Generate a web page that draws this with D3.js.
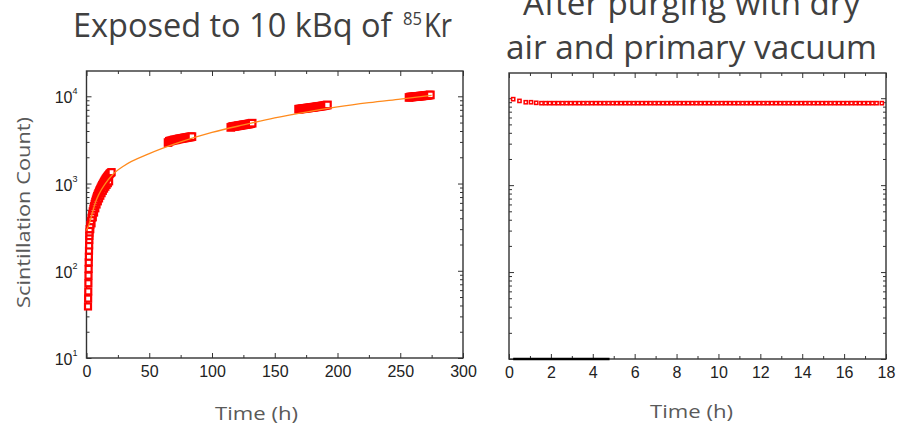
<!DOCTYPE html>
<html><head><meta charset="utf-8">
<script src="https://cdn.jsdelivr.net/npm/d3@7"></script>
<style>body{margin:0;background:#fff}svg{display:block}</style>
</head><body>
<script>
// ---------- DATA ----------
// Left panel: exposure to 85Kr
const earlyColumnT = [1.2,1.3,1.4,1.5,1.6,1.7,1.8,1.9,2.0,2.1,2.2,2.3,2.4];
const earlyColumnV = [39,48,58,72,88,105,125,145,170,195,225,250,275];
const earlyBandT = [2.5,3,3.5,4,4.5,5,5.5,6,6.5,7,7.5,8,8.5,9,9.5,10,10.5,11,11.5,12,12.5,13,13.5,14,14.5,15,15.5,16,16.5,17,17.5,18,18.5,19,19.5,20];
const earlyBandV = [300,335,370,405,445,480,515,550,585,620,655,690,720,750,780,810,840,870,900,930,960,990,1020,1050,1080,1110,1140,1165,1190,1220,1245,1270,1295,1315,1335,1350];
const earlyLowT = [3,4,5,6,7,8,9,10,11,12,13,14,15,16,17,18];
const earlyLowV = [300,350,410,465,520,575,625,675,725,775,825,875,920,965,1010,1060];
const cluster1T = [65,66,67,68,69,70,71,72,73,74,75,76,77,78,79,80,81,82,83,84];
const cluster1V = [2950,3050,3080,3100,3140,3160,3170,3200,3230,3250,3270,3290,3310,3330,3350,3370,3390,3410,3430,3450];
const cluster2T = [115,116,117,118,119,120,121,122,123,124,125,126,127,128,129,130,131,132];
const cluster2V = [4400,4480,4500,4520,4550,4570,4600,4620,4650,4680,4700,4730,4750,4780,4800,4840,4870,4920];
const cluster3T = [169,170,171,172,173,174,175,176,177,178,179,180,181,182,183,184,185,186,187,188,189,190,191,192];
const cluster3V = [7110,7140,7170,7200,7230,7270,7300,7330,7360,7400,7430,7460,7500,7530,7570,7600,7640,7680,7710,7750,7800,7850,7900,7960];
const cluster4T = [257,258,259,260,261,262,263,264,265,266,267,268,269,270,271,272,273,274];
const cluster4V = [9700,9800,9830,9860,9890,9920,9950,9980,10010,10050,10080,10120,10160,10200,10240,10280,10330,10380];
const fitT = [0,2,5,7,10,15,20,30,50,75,100,125,150,175,200,225,250,275];
const fitV = [290,340,480,600,760,1000,1230,1600,2200,3000,3850,4700,5650,6600,7550,8450,9300,10250];

// Right panel: after purging
const purgeT = [0.2,0.5,0.8,1.05,1.3,1.55,1.75,1.95,2.15,2.35,2.55,2.75,2.95,3.15,3.35,3.55,3.75,3.95,4.15,4.35,4.55,4.75,4.95,5.15,5.35,5.55,5.75,5.95,6.15,6.35,6.55,6.75,6.95,7.15,7.35,7.55,7.75,7.95,8.15,8.35,8.55,8.75,8.95,9.15,9.35,9.55,9.75,9.95,10.15,10.35,10.55,10.75,10.95,11.15,11.35,11.55,11.75,11.95,12.15,12.35,12.55,12.75,12.95,13.15,13.35,13.55,13.75,13.95,14.15,14.35,14.55,14.75,14.95,15.15,15.35,15.55,15.75,15.95,16.15,16.35,16.55,16.75,16.95,17.15,17.35,17.55,17.8];
const purgeV = [9750,9310,8990,8990,8850,8770,8770,8770,8770,8770,8770,8770,8770,8770,8770,8770,8770,8770,8770,8770,8770,8770,8770,8770,8770,8770,8770,8770,8770,8770,8770,8770,8770,8770,8770,8770,8770,8770,8770,8770,8770,8770,8770,8770,8770,8770,8770,8770,8770,8770,8770,8770,8770,8770,8770,8770,8770,8770,8770,8770,8770,8770,8770,8770,8770,8770,8770,8770,8770,8770,8770,8770,8770,8770,8770,8770,8770,8770,8770,8770,8770,8770,8770,8770,8770,8770,8770];
const bgT = [0.2,1,2,3,4,4.8];
const bgV = [10,10,10,10,10,10];

const leftXTicks = [0,50,100,150,200,250,300];
const leftXMinor = [25,75,125,175,225,275];
const rightXTicks = [0,2,4,6,8,10,12,14,16,18];
const rightXMinor = [1,3,5,7,9,11,13,15,17];
const yMajor = [10,100,1000,10000];
const yExp = ["1","2","3","4"];

// ---------- DRAW ----------
const W = 897, H = 425;
const svg = d3.select("body").append("svg").attr("width", W).attr("height", H);
const tickColor = "#333";
const yMinor = [];
[10,100,1000,10000].forEach(d => { for (let k = 2; k <= 9; k++) { const v = d*k; if (v < 19500) yMinor.push(v); } });

function panel(o) {
  const x = d3.scaleLinear().domain(o.xd).range([o.l, o.r]);
  const y = d3.scaleLog().domain([10, 19500]).range([o.b, o.t]).clamp(true);
  const g = svg.append("g");
  const axB = g.append("g").attr("transform", `translate(0,${o.b})`)
    .call(d3.axisBottom(x).tickValues(o.xt).tickSize(-5).tickPadding(8).tickFormat(d => d));
  axB.select(".domain").remove();
  axB.selectAll("text").attr("font-family", "Liberation Sans, Arial, sans-serif").attr("font-size", 16).attr("fill", "#222");
  axB.selectAll("line").attr("stroke", tickColor);
  const axBm = g.append("g").attr("transform", `translate(0,${o.b})`)
    .call(d3.axisBottom(x).tickValues(o.xm).tickSize(-3).tickFormat(""));
  axBm.select(".domain").remove(); axBm.selectAll("line").attr("stroke", tickColor);
  [[o.xt,5],[o.xm,3]].forEach(([tv,s]) => {
    const a = g.append("g").attr("transform", `translate(0,${o.t})`)
      .call(d3.axisTop(x).tickValues(tv).tickSize(-s).tickFormat(""));
    a.select(".domain").remove(); a.selectAll("line").attr("stroke", tickColor);
  });
  [[yMajor,5],[yMinor,3]].forEach(([tv,s]) => {
    const a = g.append("g").attr("transform", `translate(${o.l},0)`)
      .call(d3.axisLeft(y).tickValues(tv).tickSize(-s).tickFormat(""));
    a.select(".domain").remove(); a.selectAll("line").attr("stroke", tickColor);
    const b = g.append("g").attr("transform", `translate(${o.r},0)`)
      .call(d3.axisRight(y).tickValues(tv).tickSize(-s).tickFormat(""));
    b.select(".domain").remove(); b.selectAll("line").attr("stroke", tickColor);
  });
  if (o.ylabels) {
    yMajor.forEach((v,i) => {
      const t = g.append("text").attr("x", o.l - 9).attr("y", y(v) + 7)
        .attr("text-anchor", "end").attr("font-family", "Liberation Sans, Arial, sans-serif")
        .attr("fill", "#222").attr("font-size", 16);
      t.append("tspan").text("10");
      t.append("tspan").attr("font-size", 9).attr("dy", -9).text(yExp[i]);
    });
  }
  g.append("rect").attr("x", o.l).attr("y", o.t).attr("width", o.r - o.l).attr("height", o.b - o.t)
    .attr("fill", "none").attr("stroke", "#333").attr("stroke-width", 1.4);
  return {x, y, g};
}

const L = panel({l:86.5, r:463, t:71, b:358, xd:[0,300], xt:leftXTicks, xm:leftXMinor, ylabels:true});
const R = panel({l:509, r:886, t:73, b:359, xd:[0,18], xt:rightXTicks, xm:rightXMinor, ylabels:false});

function squares(P, T, V, size, sw) {
  P.g.append("g").selectAll("rect").data(T.map((t,i) => [t, V[i]])).join("rect")
    .attr("x", d => P.x(d[0]) - size/2).attr("y", d => P.y(d[1]) - size/2)
    .attr("width", size).attr("height", size)
    .attr("fill", "#fff").attr("stroke", "#ff0000").attr("stroke-width", sw);
}
squares(L, earlyColumnT, earlyColumnV, 6, 2.2);
squares(L, earlyLowT, earlyLowV, 6, 2.2);
squares(L, earlyBandT, earlyBandV, 6, 2.2);
squares(L, cluster1T, cluster1V, 6.5, 2.2);
squares(L, cluster2T, cluster2V, 6.5, 2.2);
squares(L, cluster3T, cluster3V, 6.5, 2.2);
squares(L, cluster4T, cluster4V, 6.5, 2.2);

L.g.append("path").datum(fitT.map((t,i) => [t, fitV[i]]))
  .attr("fill", "none").attr("stroke", "#ff8a1c").attr("stroke-width", 1.3)
  .attr("d", d3.line().x(d => L.x(d[0])).y(d => L.y(d[1])).curve(d3.curveMonotoneX));

squares(R, purgeT, purgeV, 3.2, 1.5);
R.g.append("path").datum(bgT.map((t,i) => [t, bgV[i]]))
  .attr("fill", "none").attr("stroke", "#000").attr("stroke-width", 2.5)
  .attr("d", d3.line().x(d => R.x(d[0])).y(d => R.y(d[1])));

// ---------- TEXT ----------
const tf = "Open Sans, Noto Sans, sans-serif";
const t1 = svg.append("text").attr("x", 73).attr("y", 36.5).attr("font-family", tf)
  .attr("font-size", 33).attr("fill", "#404040");
t1.append("tspan").attr("textLength", 327).attr("lengthAdjust", "spacingAndGlyphs").text("Exposed  to 10 kBq of ");
t1.append("tspan").attr("font-size", 19).attr("dy", -12).attr("x", 403).attr("textLength", 19).attr("lengthAdjust", "spacingAndGlyphs").text("85");
t1.append("tspan").attr("font-size", 33).attr("dy", 12).attr("x", 424).attr("textLength", 28).attr("lengthAdjust", "spacingAndGlyphs").text("Kr");

svg.append("text").attr("x", 523).attr("y", 15).attr("font-family", tf).attr("font-size", 33)
  .attr("fill", "#404040").attr("textLength", 337).attr("lengthAdjust", "spacingAndGlyphs").text("After purging with dry");
svg.append("text").attr("x", 506).attr("y", 59).attr("font-family", tf).attr("font-size", 33)
  .attr("fill", "#404040").attr("textLength", 371).attr("lengthAdjust", "spacingAndGlyphs").text("air and primary  vacuum");

svg.append("text").attr("x", 215).attr("y", 420).attr("font-family", tf).attr("font-size", 19)
  .attr("fill", "#595959").attr("textLength", 83).attr("lengthAdjust", "spacingAndGlyphs").text("Time (h)");
svg.append("text").attr("x", 650).attr("y", 418).attr("font-family", tf).attr("font-size", 19)
  .attr("fill", "#595959").attr("textLength", 83).attr("lengthAdjust", "spacingAndGlyphs").text("Time (h)");
svg.append("text").attr("transform", "translate(30,308) rotate(-90)").attr("font-family", tf)
  .attr("font-size", 18).attr("fill", "#595959").attr("textLength", 191).attr("lengthAdjust", "spacingAndGlyphs")
  .text("Scintillation Count)");
</script>
</body></html>
